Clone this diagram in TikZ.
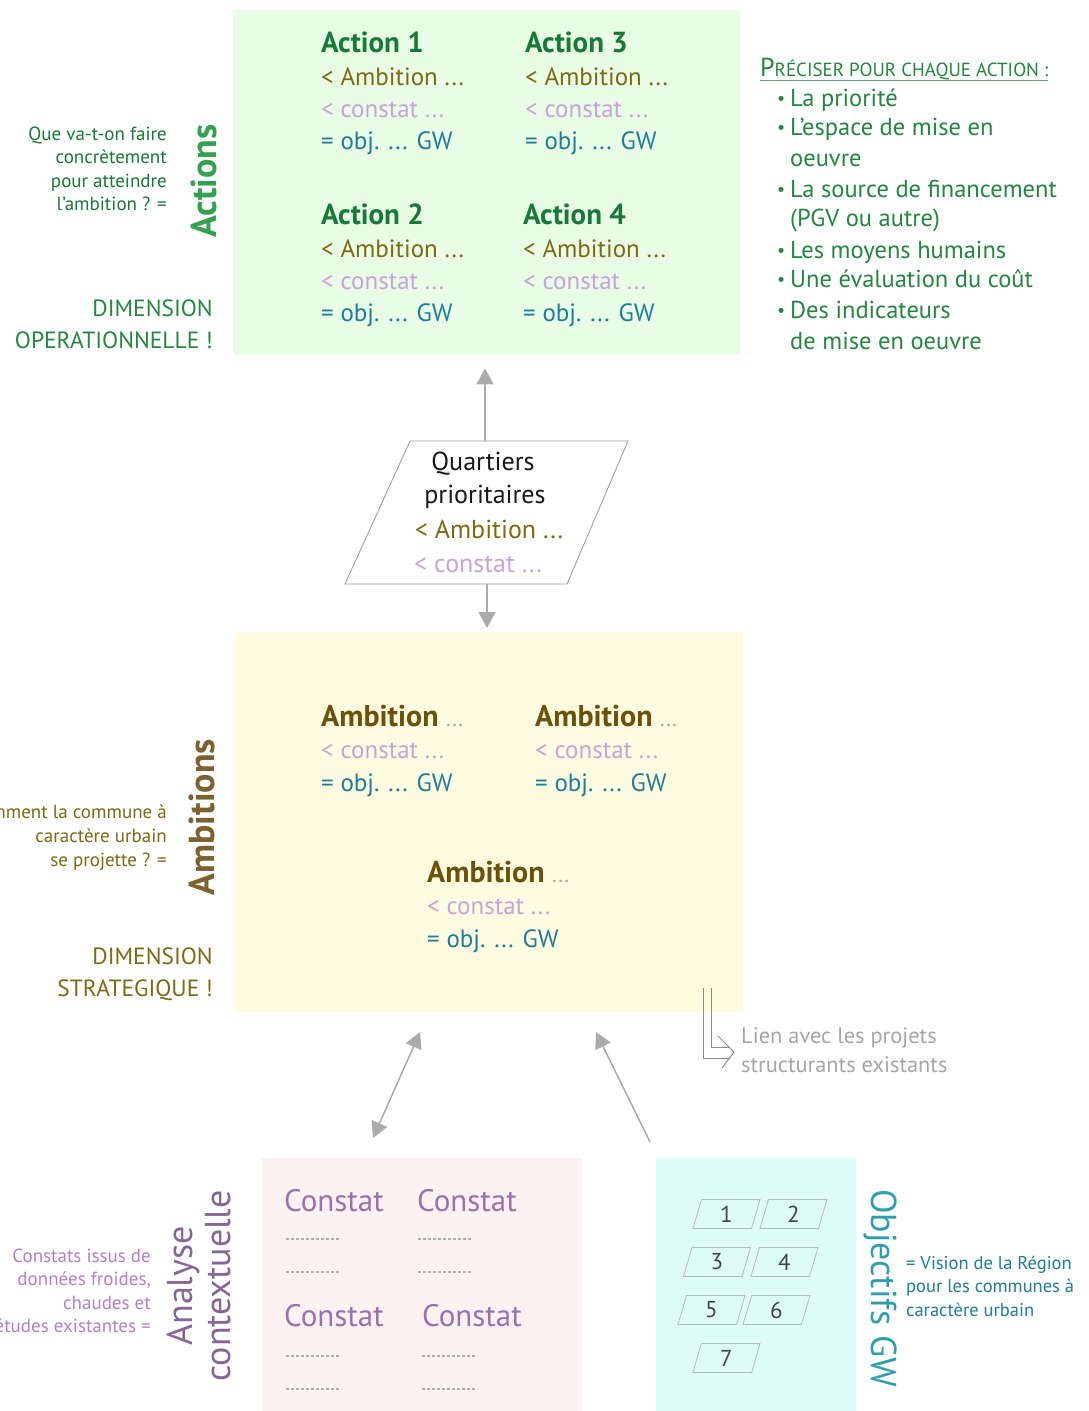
\documentclass[tikz,border=0pt]{standalone}
\usepackage{fontspec}
\setmainfont{PT Sans}
\usetikzlibrary{arrows.meta,shapes.geometric}
\definecolor{actbg}{HTML}{E8FCE6}
\definecolor{ambbg}{HTML}{FDFCE1}
\definecolor{cstbg}{HTML}{FCF2F2}
\definecolor{objbg}{HTML}{DDFCF6}
\definecolor{dgreen}{HTML}{177A36}
\definecolor{mgreen}{HTML}{23873F}
\definecolor{vgreen}{HTML}{33A150}
\definecolor{olive}{HTML}{7E6A12}
\definecolor{dolive}{HTML}{6B5109}
\definecolor{brownv}{HTML}{7D6230}
\definecolor{lilac}{HTML}{C8A2D8}
\definecolor{tealc}{HTML}{1E7E98}
\definecolor{purp}{HTML}{9A70B0}
\definecolor{purpv}{HTML}{86669A}
\definecolor{purpl}{HTML}{B77ECA}
\definecolor{tealv}{HTML}{2E9EB2}
\definecolor{arrgray}{HTML}{ABABAB}
\definecolor{txtgray}{HTML}{A6A6A6}
\definecolor{numgray}{HTML}{444444}
\newcommand\FS[2]{\fontsize{#1}{#2}\selectfont}
\tikzset{
  bgbox/.style={anchor=north west, inner sep=0, draw=none},
  ttl/.style={anchor=base west, inner sep=0, font=\FS{29}{32}\bfseries, text=dgreen},
  ambl/.style={anchor=base west, inner sep=0, font=\FS{25}{30}, text=olive},
  cstl/.style={anchor=base west, inner sep=0, font=\FS{25}{30}, text=lilac},
  objl/.style={anchor=base west, inner sep=0, font=\FS{25}{30}, text=tealc},
  ambt/.style={anchor=base west, inner sep=0, font=\FS{30}{32}\bfseries, text=dolive},
  lst/.style={anchor=base west, inner sep=0, font=\FS{24.5}{28}, text=mgreen},
  qln/.style={anchor=base, inner sep=0, font=\FS{26}{34}, text=black!90},
  garrow/.style={draw=arrgray, line width=1.5pt, -{Triangle[width=17pt,length=16pt]}},
  numbox/.style={trapezium, trapezium left angle=62.6, trapezium right angle=117.4,
    trapezium stretches body, minimum width=67, minimum height=29, inner sep=0,
    draw=black!28, line width=0.8pt, font=\FS{23}{23}, text=numgray},
  dotline/.style={draw=black!32, line width=2.5pt, dash pattern=on 2.5pt off 2.5pt},
  lien/.style={draw=black!45, line width=1pt},
  vlbl/.style={inner sep=0, font=\FS{36}{38}},
}
\newcommand\ActBlock[4]{%
  \node[ttl] (#1t) at (#2,#3) {#4};
  \node[ambl] (#1a) at (#2,#3+33) {< Ambition ...};
  \node[cstl] (#1c) at (#2,#3+65) {< constat ...};
  \node[objl] (#1o) at (#2,#3+97) {= obj. ... GW};
}
\newcommand\AmbBlock[3]{%
  \node[ambt] (#1t) at (#2,#3) {Ambition {\mdseries\FS{22}{26}\color{txtgray}...}};
  \node[cstl] (#1c) at (#2,#3+32) {< constat ...};
  \node[objl] (#1o) at (#2,#3+65) {= obj. ... GW};
}
\begin{document}
\begin{tikzpicture}[x=1pt,y=-1pt]
\useasboundingbox (0,0) rectangle (1089,1411);
\fill[white] (0,0) rectangle (1089,1411);

% background boxes
\node[bgbox, fill=actbg, minimum width=507, minimum height=345] (actbox) at (233,10) {};
\node[bgbox, fill=ambbg, minimum width=508, minimum height=380] (ambbox) at (235,632) {};
\node[bgbox, fill=cstbg, minimum width=320, minimum height=253] (cstbox) at (262,1158) {};
\node[bgbox, fill=objbg, minimum width=200, minimum height=253] (objbox) at (656,1158) {};

% Actions
\ActBlock{aA}{321}{52}{Action 1}
\ActBlock{aC}{525}{52}{Action 3}
\ActBlock{aB}{321}{224}{Action 2}
\ActBlock{aD}{523}{224}{Action 4}

\node[vlbl, rotate=90, font=\FS{36}{38}\bfseries, text=vgreen] (actlbl) at (204,181) {Actions};
\node[anchor=east, align=right, inner sep=0, font=\FS{19}{23.5}, text=dgreen] (actq) at (167,169)
  {Que va-t-on faire\\concrètement\\pour atteindre\\l’ambition ? =};
\node[anchor=east, align=right, inner sep=0, font=\FS{23.5}{32}, text=mgreen] (actdim) at (213,324)
  {DIMENSION\\OPERATIONNELLE !};

% right list
\node[anchor=base west, inner sep=0, font=\FS{26}{28}, text=mgreen] (prec) at (760,76)
  {P{\FS{19}{20}RÉCISER POUR CHAQUE ACTION :}};
\draw[draw=mgreen!70, line width=1pt] ([yshift=-1pt]prec.south west) -- ([yshift=-1pt]prec.south east);
\foreach \yy/\nm in {106/b1,135/b2,197/b3,258/b4,287/b5,318/b6}
  \node[lst, font=\FS{18}{20}] (\nm) at (777,\yy-2) {•};
\node[lst] (l1) at (790,106) {La priorité};
\node[lst] (l2) at (790,135) {L’espace de mise en};
\node[lst] (l3) at (790,166) {oeuvre};
\node[lst] (l4) at (790,197) {La source de financement};
\node[lst] (l5) at (790,226) {(PGV ou autre)};
\node[lst] (l6) at (790,258) {Les moyens humains};
\node[lst] (l7) at (790,287) {Une évaluation du coût};
\node[lst] (l8) at (790,318) {Des indicateurs};
\node[lst] (l9) at (790,349) {de mise en oeuvre};

% Quartiers prioritaires
\coordinate (qsw) at (345,584);
\coordinate (qnw) at (410,441);
\coordinate (qne) at (628,441);
\coordinate (qse) at (567,584);
\coordinate (qn) at (485,441);
\coordinate (qs) at (487,584);
\draw[draw=black!40, line width=0.8pt, fill=white] (qsw) -- (qnw) -- (qne) -- (qse) -- cycle;
\node[qln] (q1) at (483,470) {Quartiers};
\node[qln] (q2) at (485,503) {prioritaires};
\node[qln, text=olive] (q3) at (489,538) {< Ambition ...};
\node[qln, text=lilac] (q4) at (478,572) {< constat ...};
\draw[garrow, shorten >=13pt] (qn) -- (qn |- actbox.south);
\draw[garrow, shorten >=4pt] (qs) -- (qs |- ambbox.north);

% Ambitions
\AmbBlock{mA}{321}{726}
\AmbBlock{mB}{535}{726}
\AmbBlock{mC}{427}{882}

\node[vlbl, rotate=90, font=\FS{36}{38}\bfseries, text=brownv] (amblbl) at (202,817) {Ambitions};
\node[anchor=east, align=right, inner sep=0, font=\FS{19}{24}, text=olive] (ambq) at (167,838)
  {Comment la commune à\\caractère urbain\\se projette ? =};
\node[anchor=east, align=right, inner sep=0, font=\FS{23.5}{32}, text=olive] (ambdim) at (213,974)
  {DIMENSION\\STRATEGIQUE !};

% lien
\coordinate (lA) at (703,988);
\coordinate (lB) at (711,988);
\coordinate (lC) at (729,1058);
\coordinate (lD) at (729,1047);
\draw[lien] (lA) |- (lC);
\draw[lien] (lB) |- (lD);
\draw[lien] (718,1036) -- (734,1052) -- (722,1068);
\node[anchor=west, align=left, inner sep=0, font=\FS{22.4}{29}, text=txtgray] (lien) at (741,1050)
  {Lien avec les projets\\structurants existants};

% lower arrows
\coordinate (d1) at (420,1032);
\coordinate (d2) at (373,1138);
\coordinate (e1) at (650,1142);
\coordinate (e2) at (596,1032);
\draw[garrow, {Triangle[width=17pt,length=16pt]}-{Triangle[width=17pt,length=16pt]}] (d2) -- (d1);
\draw[garrow] (e1) -- (e2);

% Constats
\foreach \nm/\xx/\yy in {c1/284/1211, c2/417/1211, c3/284/1326, c4/422/1326}
  \node[anchor=base west, inner sep=0, font=\FS{31}{32}, text=purp] (\nm) at (\xx,\yy) {Constat};
\foreach \xx/\yy in {286/1239, 286/1272, 418/1239, 418/1272, 286/1356, 286/1389, 422/1356, 422/1389}
  \draw[dotline] (\xx,\yy) -- (\xx+55,\yy);

\node[vlbl, rotate=90, align=center, text=purpv] (analbl) at (199,1286) {Analyse\\contextuelle};
\node[anchor=east, align=right, inner sep=0, font=\FS{19}{23.5}, text=purpl] (anaq) at (151,1291)
  {Constats issus de\\données froides,\\chaudes et\\études existantes =};

% Objectifs GW
\node[numbox] (n1) at (726.5,1214) {1};
\node[numbox] (n2) at (793.5,1214) {2};
\node[numbox] (n3) at (717,1262) {3};
\node[numbox] (n4) at (784.5,1262) {4};
\node[numbox] (n5) at (711.5,1310) {5};
\node[numbox] (n6) at (776.5,1310) {6};
\node[numbox] (n7) at (726.5,1358) {7};
\node[vlbl, rotate=-90, text=tealv] (objlbl) at (880,1288) {Objectifs GW};
\node[anchor=west, align=left, inner sep=0, font=\FS{18.5}{23.5}, text=tealc] (objq) at (906,1286)
  {= Vision de la Région\\pour les communes à\\caractère urbain};
\end{tikzpicture}
\end{document}
